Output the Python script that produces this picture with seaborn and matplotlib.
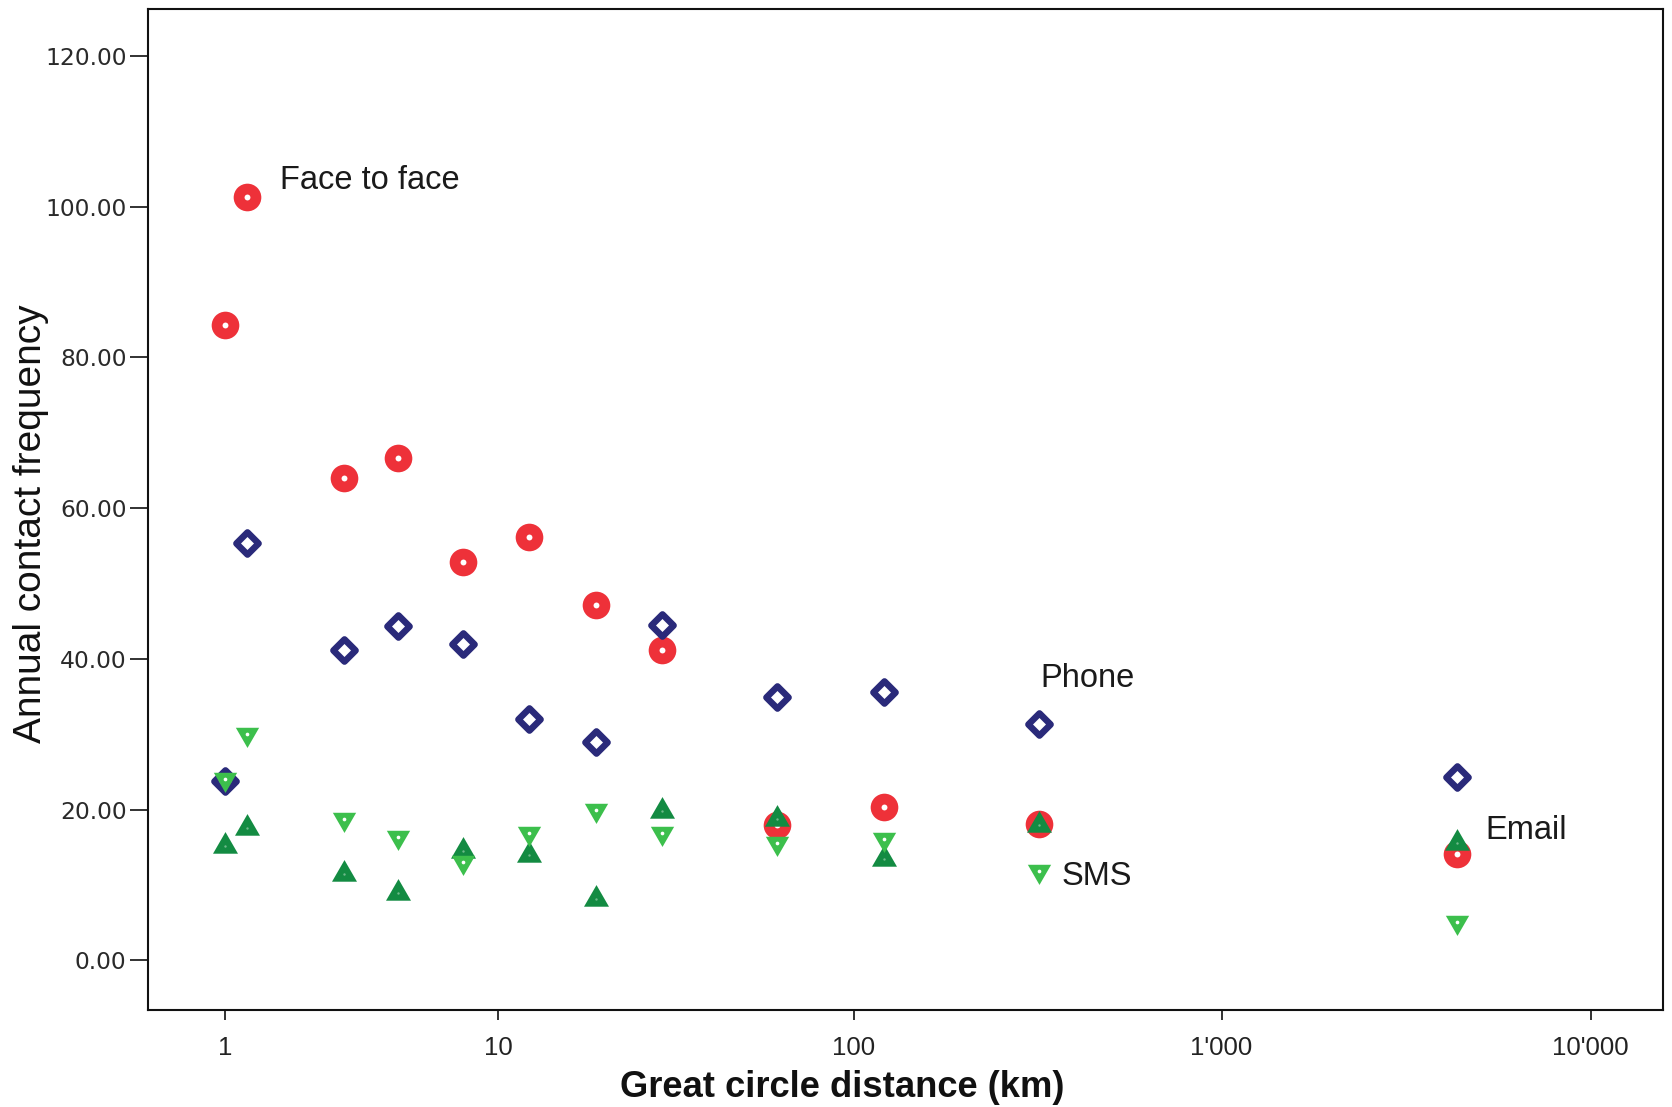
import numpy as np
import pandas as pd
import matplotlib
matplotlib.use("Agg")
import matplotlib.pyplot as plt
from matplotlib.path import Path
import seaborn as sns

# Mean great circle distance of each distance class (km)
distance_km = [1.0, 1.3, 3.2, 4.9, 7.8, 12.3, 19.2, 29.5, 61.4, 121.0, 320.0, 4334.0]

# Annual contact frequency per mode of communication
face_to_face = [84.3, 101.3, 64.0, 66.6, 52.9, 56.2, 47.2, 41.2, 17.9, 20.3, 18.1, 14.1]
phone = [23.8, 55.4, 41.2, 44.3, 42.0, 32.0, 29.0, 44.5, 34.9, 35.6, 31.4, 24.3]
email = [15.2, 17.6, 11.5, 8.9, 14.5, 14.0, 8.2, 19.8, 18.8, 13.5, 18.0, 15.6]
sms = [24.0, 30.0, 18.8, 16.4, 13.0, 16.9, 20.0, 16.9, 15.5, 16.1, 11.8, 5.1]

x_ticks = [1, 10, 100, 1000, 10000]
x_tick_labels = ["1", "10", "100", "1'000", "10'000"]
y_ticks = [0, 20, 40, 60, 80, 100, 120]

RED = "#EE3139"
NAVY = "#2A2A7A"
DARK_GREEN = "#138B42"
LIGHT_GREEN = "#3CBF4C"
TEXT = "#1a1a1a"

df = pd.DataFrame({
    "distance": distance_km,
    "face": face_to_face,
    "phone": phone,
    "email": email,
    "sms": sms,
})

sns.set_theme(style="white")
plt.rcParams["font.family"] = ["Liberation Sans", "DejaVu Sans"]

fig = plt.figure(figsize=(16.72, 11.07), dpi=100)
ax = fig.add_axes([0.0885, 0.0878, 0.9064, 0.9045])

# "safe log" distance axis: log10(1 + x)
def fwd(v):
    v = np.asarray(v, dtype=float)
    return np.log10(np.maximum(1.0 + v, 1e-12))

def inv(v):
    return 10.0 ** np.asarray(v, dtype=float) - 1.0

ax.set_xscale("function", functions=(fwd, inv))

# equilateral triangles centred on their centroid
h = np.sqrt(3) / 2
tri_up = Path([(0, 2 * h / 3), (-0.5, -h / 3), (0.5, -h / 3), (0, 0)],
              [Path.MOVETO, Path.LINETO, Path.LINETO, Path.CLOSEPOLY])
tri_down = Path([(0, -2 * h / 3), (-0.5, h / 3), (0.5, h / 3), (0, 0)],
                [Path.MOVETO, Path.LINETO, Path.LINETO, Path.CLOSEPOLY])

# Face to face: red discs with a white centre
sns.scatterplot(data=df, x="distance", y="face", ax=ax, marker="o", s=396,
                color=RED, linewidth=0, zorder=3)
sns.scatterplot(data=df, x="distance", y="face", ax=ax, marker="o", s=18,
                color="white", linewidth=0, zorder=3.1)

# Phone: open navy diamonds
sns.scatterplot(data=df, x="distance", y="phone", ax=ax, marker="D", s=128,
                color="white", edgecolor=NAVY, linewidth=4.7, zorder=4)

# Email: dark green upward triangles
sns.scatterplot(data=df, x="distance", y="email", ax=ax, marker=tri_up, s=432,
                color=DARK_GREEN, linewidth=0, zorder=5)
sns.scatterplot(data=df, x="distance", y="email", ax=ax, marker="o", s=3,
                color="#6fb98a", linewidth=0, zorder=5.1)

# SMS: light green downward triangles
sns.scatterplot(data=df, x="distance", y="sms", ax=ax, marker=tri_down, s=375,
                color=LIGHT_GREEN, linewidth=0, zorder=6)
sns.scatterplot(data=df, x="distance", y="sms", ax=ax, marker="o", s=7,
                color="white", linewidth=0, zorder=6.1)

# series labels
label_kw = dict(fontsize=23.5, color=TEXT, ha="left", va="baseline", zorder=7)
ax.text(1.818, 102.3, "Face to face", **label_kw)
ax.text(323, 36.2, "Phone", **label_kw)
ax.text(369, 10.0, "SMS", **label_kw)
ax.text(5199, 16.06, "Email", **label_kw)

ax.set_xlim(0.237, 15750)
ax.set_ylim(-6.57, 126.3)

ax.set_xticks(x_ticks, x_tick_labels)
ax.set_yticks(y_ticks, [f"{v:.2f}" for v in y_ticks])
ax.minorticks_off()

ax.tick_params(axis="both", direction="out", colors="#222222", width=1.3,
               bottom=True, left=True, top=False, right=False)
ax.tick_params(axis="y", length=13, pad=2.4)
ax.tick_params(axis="x", length=7.2, pad=11.5, labelsize=18.5)
for lab in ax.get_yticklabels():
    lab.set_fontfamily(["DejaVu Sans"])
    lab.set_fontsize(16.8)
    lab.set_color("#2a2a2a")

for side in ["left", "right", "top", "bottom"]:
    ax.spines[side].set_visible(True)
    ax.spines[side].set_color("#111111")
    ax.spines[side].set_linewidth(1.5)

ax.set_xlabel("Great circle distance (km)", fontsize=26.2, fontweight="bold",
              color="#111111")
ax.xaxis.set_label_coords(0.458, -0.0605)
ax.set_ylabel("Annual contact frequency", fontsize=28, color="#111111")
ax.yaxis.set_label_coords(-0.0653, 0.4857)

ax.grid(False)
ax.set_facecolor("white")
fig.patch.set_facecolor("white")

fig.savefig("out.png", dpi=100)
